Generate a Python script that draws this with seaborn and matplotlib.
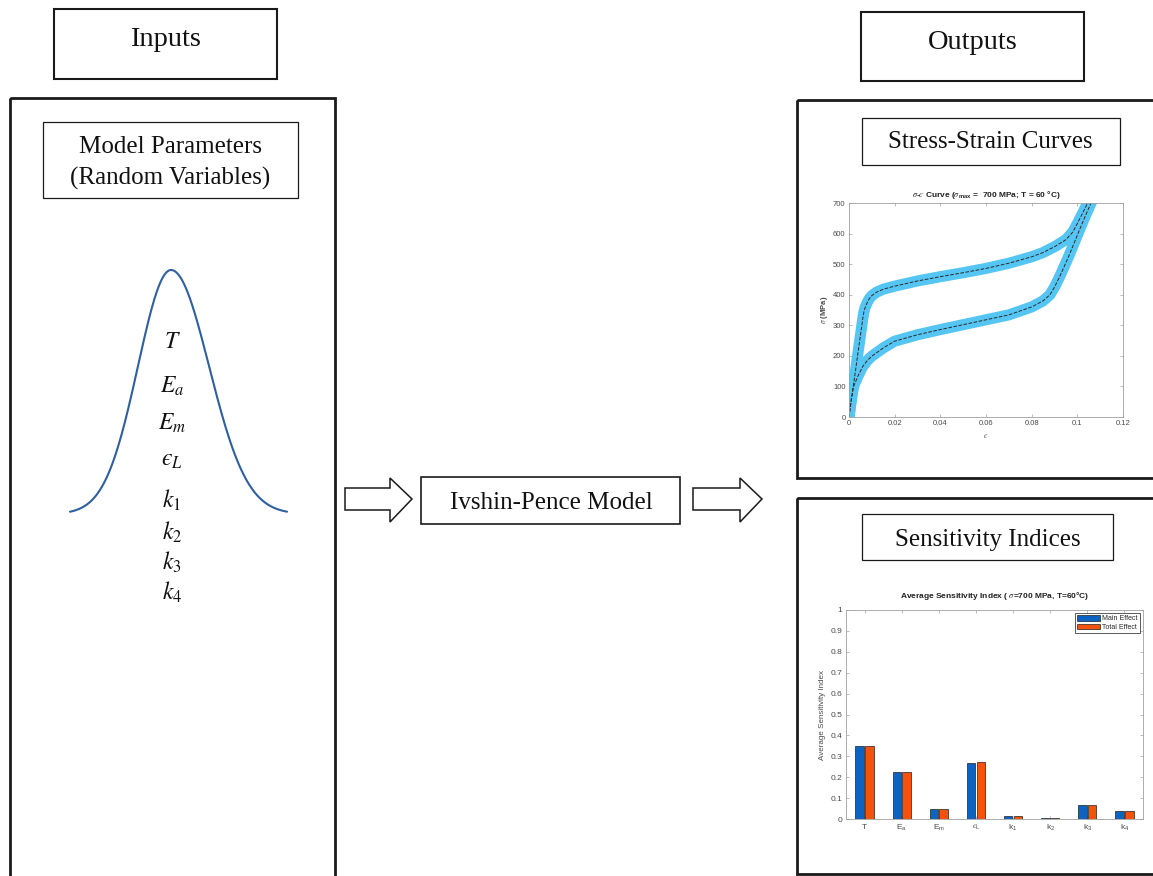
import matplotlib
matplotlib.use('Agg')
import matplotlib.pyplot as plt
import seaborn as sns
import numpy as np
import pandas as pd
from matplotlib.patches import Rectangle, Polygon

# ---------------- data ----------------
param_keys = ['T', 'Ea', 'Em', 'epsL', 'k1', 'k2', 'k3', 'k4']
param_tick_labels = [r'$\mathregular{T}$', r'$\mathregular{E_a}$', r'$\mathregular{E_m}$',
                     '$\u03f5_\\mathregular{L}$', r'$\mathregular{k_1}$', r'$\mathregular{k_2}$',
                     r'$\mathregular{k_3}$', r'$\mathregular{k_4}$']
main_effect = [0.349, 0.226, 0.046, 0.270, 0.013, 0.004, 0.069, 0.037]
total_effect = [0.349, 0.226, 0.046, 0.271, 0.013, 0.004, 0.069, 0.036]
effect_names = ['Main Effect', 'Total Effect']

load_strain = [0, 0.003, 0.006, 0.0065, 0.007, 0.008, 0.009, 0.01, 0.012, 0.015, 0.02, 0.03,
               0.04, 0.05, 0.06, 0.07, 0.08, 0.085, 0.09, 0.095, 0.098, 0.1, 0.102, 0.1045, 0.106]
load_stress = [0, 160, 320, 343, 357, 375, 388, 397, 408, 418, 428, 445,
               459, 472, 486, 503, 524, 538, 557, 580, 605, 633, 662, 700, 722]
unload_strain = [0, 0.001, 0.002, 0.004, 0.006, 0.008, 0.01, 0.015, 0.02, 0.03, 0.04, 0.05,
                 0.06, 0.07, 0.08, 0.085, 0.088, 0.09, 0.092, 0.094, 0.096, 0.098, 0.1,
                 0.103, 0.106, 0.107]
unload_stress = [0, 60, 100, 135, 165, 185, 199, 226, 248, 269, 286, 302,
                 318, 334, 360, 380, 400, 425, 455, 488, 522, 558, 595,
                 649, 700, 715]

input_symbols = [r'$T$', r'$E_a$', r'$E_m$', '$\u03f5_L$', r'$k_1$', r'$k_2$', r'$k_3$', r'$k_4$']

# ---------------- style ----------------
sns.set_theme(style='white')
plt.rcParams['font.family'] = ['Liberation Sans', 'DejaVu Sans']
plt.rcParams['mathtext.fontset'] = 'stix'
SERIF = ['Liberation Serif', 'DejaVu Serif']

W, H = 1153, 876
fig = plt.figure(figsize=(W / 100, H / 100), dpi=100)
fig.patch.set_facecolor('white')

bg = fig.add_axes([0, 0, 1, 1], zorder=0)
bg.set_xlim(0, W)
bg.set_ylim(H, 0)
bg.axis('off')

EDGE = '#1a1a1a'

def box(x0, y0, x1, y1, lw):
    bg.add_patch(Rectangle((x0, y0), x1 - x0, y1 - y0, fill=False, lw=lw, ec=EDGE))

def label(x, y, s, size):
    bg.text(x, y, s, ha='center', va='baseline', fontsize=size, family=SERIF, color='#111111')

# header boxes
box(54, 9, 277, 79, 1.5)
label(165, 46, 'Inputs', 20.5)
box(861, 12, 1084, 81, 1.5)
label(973, 49, 'Outputs', 20.5)

# left big box
box(10, 98, 335, 900, 2.0)
box(43, 122, 298, 198, 0.9)
label(170.5, 153, 'Model Parameters', 18)
label(170.5, 185, '(Random Variables)', 18)

# gaussian schematic
gx = np.linspace(70, 287, 300)
gs = np.where(gx < 171, 33.0, 38.0)
gy = 514 - 244 * np.exp(-(gx - 171) ** 2 / (2 * gs ** 2))
bg.plot(gx, gy, color='#2f5f9e', lw=1.5)

sym_baselines = [348, 393, 430, 466, 508, 540, 570, 600]
for s, yb in zip(input_symbols, sym_baselines):
    bg.text(172, yb, s, ha='center', va='baseline', fontsize=17, color='#111111')

# arrows and model box
def block_arrow(x0, xh, x1):
    pts = [(x0, 488), (xh, 488), (xh, 478), (x1, 499), (xh, 522), (xh, 510), (x0, 510)]
    bg.add_patch(Polygon(pts, closed=True, fill=False, lw=1.1, ec=EDGE, joinstyle='miter'))

block_arrow(345, 390, 412)
block_arrow(693, 740, 762)
box(421, 477, 680, 524, 1.2)
label(551, 509, 'Ivshin-Pence Model', 18)

# right boxes
box(797, 100, 1175, 478, 2.0)
box(862, 118, 1120, 165, 0.9)
label(990, 148, 'Stress-Strain Curves', 18)
box(797, 498, 1175, 874, 2.0)
box(862, 514, 1113, 560, 0.9)
label(988, 546, 'Sensitivity Indices', 18)

def matlab_style(ax, lsize):
    for s in ax.spines.values():
        s.set_visible(True)
        s.set_color('#a0a0a0')
        s.set_linewidth(0.6)
    ax.tick_params(direction='in', length=2, width=0.5, colors='#a0a0a0',
                   labelcolor='#4a4a4a', labelsize=lsize, top=True, right=True,
                   bottom=True, left=True, pad=2.5)
    ax.set_facecolor('white')

# ---------------- stress-strain ----------------
ax1 = fig.add_axes([849 / W, 1 - 417 / H, 274 / W, 214 / H], zorder=2)
ss = pd.concat([
    pd.DataFrame({'strain': load_strain, 'stress': load_stress, 'branch': 'loading'}),
    pd.DataFrame({'strain': unload_strain, 'stress': unload_stress, 'branch': 'unloading'}),
])
for br in ['loading', 'unloading']:
    d = ss[ss['branch'] == br]
    sns.lineplot(data=d, x='strain', y='stress', sort=False, ax=ax1, color='#55c5f3',
                 lw=8.0, solid_capstyle='butt', solid_joinstyle='round', estimator=None)
for br in ['loading', 'unloading']:
    d = ss[ss['branch'] == br]
    sns.lineplot(data=d, x='strain', y='stress', sort=False, ax=ax1, color='#2a2a2a',
                 lw=0.7, linestyle='--', estimator=None)
ax1.set_xlim(0, 0.12)
ax1.set_ylim(0, 700)
ax1.set_xticks([0, 0.02, 0.04, 0.06, 0.08, 0.1, 0.12])
ax1.set_xticklabels(['0', '0.02', '0.04', '0.06', '0.08', '0.1', '0.12'])
ax1.set_yticks(range(0, 701, 100))
ax1.set_yticklabels([str(v) for v in range(0, 701, 100)])
matlab_style(ax1, 5.5)
ax1.set_xlabel('$\u03f5$', fontsize=5.5, color='#4a4a4a', labelpad=3)
ax1.set_ylabel(r'$\sigma$ (MPa)', fontsize=5.5, color='#4a4a4a', fontweight='bold', labelpad=2)
ax1.set_title('$\\sigma$-$\u03f5$ Curve ($\\sigma_{\\mathregular{max}}$ =  700 MPa; T = 60 °C)',
              fontsize=6, fontweight='bold', color='#222222', pad=4)

# ---------------- sensitivity bars ----------------
ax2 = fig.add_axes([846 / W, 1 - 819 / H, 297 / W, 209 / H], zorder=2)
bars = pd.DataFrame({
    'param': param_keys * 2,
    'effect': [effect_names[0]] * len(param_keys) + [effect_names[1]] * len(param_keys),
    'value': main_effect + total_effect,
})
sns.barplot(data=bars, x='param', y='value', hue='effect', order=param_keys,
            hue_order=effect_names, palette={'Main Effect': '#0b63c4', 'Total Effect': '#f5520c'},
            width=0.52, gap=0.12, edgecolor='#202020', linewidth=0.5, saturation=1, ax=ax2)
ax2.set_xlim(-0.5, 7.5)
ax2.set_ylim(0, 1)
ax2.set_yticks(np.arange(0, 1.01, 0.1))
ax2.set_yticklabels(['0'] + [f'{v:.1f}' for v in np.arange(0.1, 0.95, 0.1)] + ['1'])
ax2.set_xticks(range(len(param_keys)))
ax2.set_xticklabels(param_tick_labels)
matlab_style(ax2, 6)
ax2.set_xlabel('')
ax2.set_ylabel('Average Sensitivity Index', fontsize=5.8, color='#4a4a4a', labelpad=3)
ax2.set_title(r'Average Sensitivity Index ( $\sigma$=700 MPa, T=60°C)',
              fontsize=6, fontweight='bold', color='#222222', pad=9)
handles, labels = ax2.get_legend_handles_labels()
ax2.legend(handles, labels, loc='upper right', fontsize=5, frameon=True, fancybox=False,
           edgecolor='#404040', framealpha=1, handlelength=3.4, handleheight=0.9,
           borderpad=0.25, labelspacing=0.15, handletextpad=0.3, borderaxespad=0.5)
ax2.get_legend().get_frame().set_linewidth(0.6)

fig.savefig('out.png', dpi=100, facecolor='white')
